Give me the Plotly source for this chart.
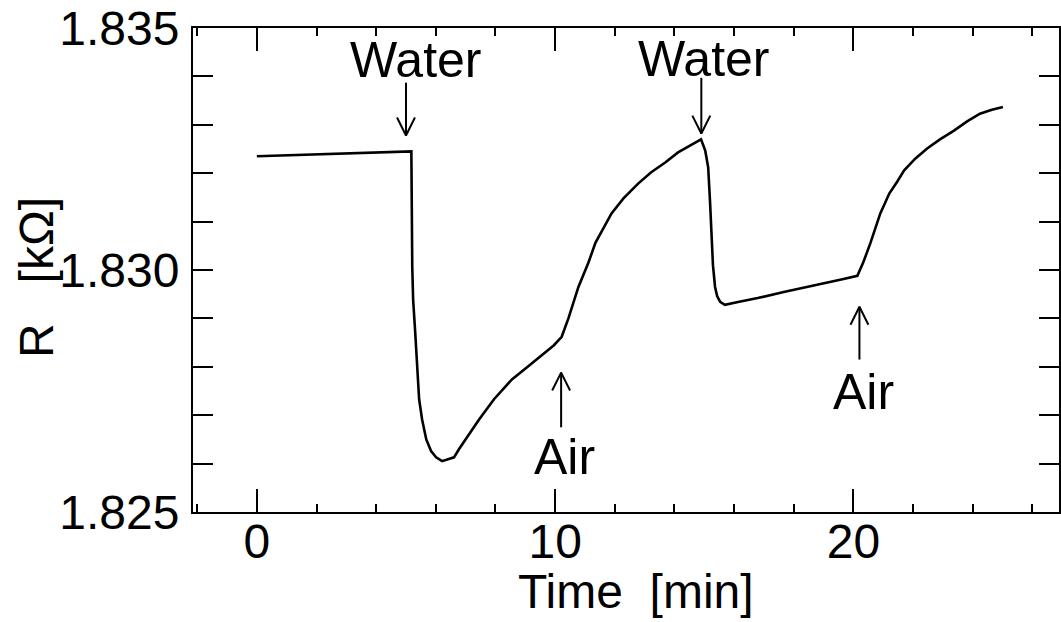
import plotly.graph_objects as go

# Resistance trace over time
time_min = [0.0, 5.11, 5.18, 5.21, 5.24, 5.31, 5.38, 5.44, 5.54, 5.68, 5.84, 6.01,
            6.21, 6.61, 6.78, 7.11, 7.45, 7.95, 8.55, 9.12, 9.68, 9.95, 10.22,
            10.45, 10.78, 11.12, 11.35, 11.62, 11.89, 12.29, 12.79, 13.22, 13.69,
            14.12, 14.52, 14.89, 15.03, 15.13, 15.19, 15.23, 15.29, 15.36, 15.43,
            15.53, 15.69, 16.13, 16.79, 17.70, 18.80, 19.63, 20.13, 20.33, 20.57,
            20.73, 20.90, 21.07, 21.20, 21.47, 21.70, 22.07, 22.47, 22.90, 23.37,
            23.81, 24.24, 24.64, 25.01]
r_kohm = [1.83235, 1.83245, 1.83245, 1.83006, 1.82938, 1.82870, 1.82794, 1.82733,
          1.82691, 1.82650, 1.82626, 1.82613, 1.82605, 1.82613, 1.82630, 1.82661,
          1.82691, 1.82733, 1.82774, 1.82802, 1.82829, 1.82844, 1.82862, 1.82901,
          1.82965, 1.83016, 1.83056, 1.83088, 1.83117, 1.83148, 1.83179, 1.83202,
          1.83222, 1.83243, 1.83257, 1.83270, 1.83247, 1.83212, 1.83144, 1.83076,
          1.83010, 1.82965, 1.82946, 1.82934, 1.82928, 1.82934, 1.82942, 1.82955,
          1.82969, 1.82981, 1.82988, 1.83016, 1.83056, 1.83086, 1.83117, 1.83140,
          1.83158, 1.83183, 1.83206, 1.83230, 1.83251, 1.83270, 1.83288, 1.83307,
          1.83323, 1.83331, 1.83337]

# Medium switching events: time, label, arrow tail / tip, label position
event_time = [5.0, 10.2, 14.9, 20.2]
event_label = ["Water", "Air", "Water", "Air"]
arrow_tail = [1.83387, 1.82675, 1.83397, 1.82815]
arrow_tip = [1.83278, 1.82788, 1.83282, 1.82924]
label_x = [5.32, 10.3, 14.98, 20.33]
label_y = [1.83434, 1.82613, 1.83436, 1.82747]

FONT = "Liberation Sans, Arial, Helvetica, sans-serif"

fig = go.Figure()
fig.add_trace(go.Scatter(x=time_min, y=r_kohm, mode="lines",
                         line=dict(color="black", width=2.6),
                         hoverinfo="skip", showlegend=False))

# Open V arrows
head_dx = 0.3
head_dy = 0.00037
ax_pts, ay_pts = [], []
for t, tail, tip in zip(event_time, arrow_tail, arrow_tip):
    sgn = 1 if tail > tip else -1
    ax_pts += [t, t, None, t - head_dx, t, t + head_dx, None]
    ay_pts += [tail, tip, None, tip + sgn * head_dy, tip, tip + sgn * head_dy, None]
fig.add_trace(go.Scatter(x=ax_pts, y=ay_pts, mode="lines",
                         line=dict(color="black", width=2),
                         hoverinfo="skip", showlegend=False))

for x, y, txt in zip(label_x, label_y, event_label):
    fig.add_annotation(x=x, y=y, xref="x", yref="y", text=txt, showarrow=False,
                       font=dict(family=FONT, size=50, color="black"),
                       xanchor="center", yanchor="middle")

# Axis titles
fig.add_annotation(x=0.512, y=-0.165, xref="paper", yref="paper",
                   text="Time  [min]", showarrow=False,
                   font=dict(family=FONT, size=48, color="black"),
                   xanchor="center", yanchor="middle")
fig.add_annotation(x=-0.18, y=0.4835, xref="paper", yref="paper",
                   text="R   [kΩ]", showarrow=False, textangle=-90,
                   font=dict(family=FONT, size=48, color="black"),
                   xanchor="center", yanchor="middle")

fig.update_xaxes(range=[-2.14, 26.89], tick0=0, dtick=10,
                 ticks="inside", ticklen=23, tickwidth=2, tickcolor="black",
                 minor=dict(dtick=2, ticks="inside", ticklen=8, tickwidth=2,
                            tickcolor="black"),
                 showline=True, linewidth=2, linecolor="black", mirror="ticks",
                 showgrid=False, zeroline=False, ticklabelstandoff=-14,
                 tickfont=dict(family=FONT, size=48, color="black"))
fig.update_yaxes(range=[1.825, 1.835], tick0=1.825, dtick=0.005, tickformat=".3f",
                 ticks="inside", ticklen=20, tickwidth=2, tickcolor="black",
                 minor=dict(dtick=0.001, ticks="inside", ticklen=20, tickwidth=2,
                            tickcolor="black"),
                 showline=True, linewidth=2, linecolor="black", mirror="ticks",
                 showgrid=False, zeroline=False, ticklabelstandoff=2,
                 tickfont=dict(family=FONT, size=48, color="black"))

fig.update_layout(width=1061, height=622,
                  margin=dict(l=193, r=0, t=28, b=110),
                  paper_bgcolor="white", plot_bgcolor="white")

fig.write_html("out.html")
